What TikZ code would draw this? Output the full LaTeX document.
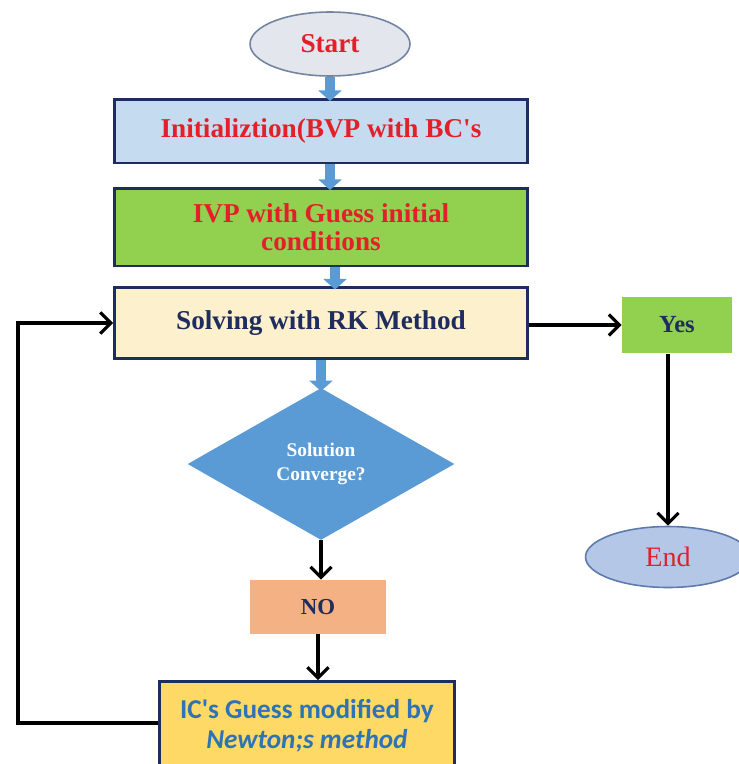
\documentclass[tikz,border=0pt]{standalone}
\usepackage{fontspec}
\setmainfont{Liberation Serif}
\newfontfamily\calfont{Carlito}
\usetikzlibrary{shapes.geometric,arrows.meta}
\definecolor{navy}{HTML}{1F2D5E}
\definecolor{txtred}{HTML}{E3202A}
\definecolor{icblue}{HTML}{2E74B5}
\definecolor{flowblue}{HTML}{5B9BD5}
\definecolor{leaf}{HTML}{92D050}
\definecolor{startfill}{HTML}{E3E6EC}
\definecolor{startline}{HTML}{7384A0}
\definecolor{endfill}{HTML}{B4C7E7}
\definecolor{endline}{HTML}{5C7AAB}
\definecolor{initfill}{HTML}{C5DCF0}
\definecolor{solvefill}{HTML}{FDF0CD}
\definecolor{nofill}{HTML}{F4B183}
\definecolor{icfill}{HTML}{FFD966}
\newcommand{\apos}{\textquotesingle}
\begin{document}
\begin{tikzpicture}[x=0.02cm,y=-0.02cm,font=\bfseries\fontsize{15.5}{16}\selectfont,
		every node/.style={inner sep=0,align=center},
		box/.style={rectangle,draw=navy,line width=1.7pt,minimum width=8.26cm},
		term/.style={ellipse,draw=#1,line width=0.9pt},
		fat/.style={draw=flowblue,line width=6pt,-{Triangle[width=13pt,length=6pt]},shorten >=-2pt},
		arr/.style={draw=black,line width=1.8pt,-{Straight Barb[length=6pt,width=12pt]}}]
		\useasboundingbox (0,0) rectangle (739,764);
		\node[term=startline,fill=startfill,minimum width=3.2cm,minimum height=1.28cm,text=txtred] (start) at (330,44) {Start};
		\node[box,fill=initfill,minimum height=1.28cm,text=txtred] (init) at (321,131) {Initializtion(BVP with BC\apos s};
		\node[box,fill=leaf,minimum height=1.56cm,text=txtred] (ivp) at (321,227) {IVP with Guess initial\\conditions};
		\node[box,fill=solvefill,minimum height=1.42cm,text=navy] (solve) at (321,323) {Solving with RK Method};
		\node[diamond,fill=flowblue,minimum width=5.34cm,minimum height=3.04cm,text=white,
			font=\bfseries\fontsize{11}{13.5}\selectfont] (conv) at (321,464) {Solution\\Converge?};
		\node[rectangle,fill=nofill,minimum width=2.74cm,minimum height=1.08cm,text=navy,
			font=\bfseries\fontsize{13}{15}\selectfont] (no) at (318,607) {NO};
		\node[box,fill=icfill,minimum width=5.9cm,minimum height=1.78cm,text=icblue,
			font=\calfont\bfseries\fontsize{15.5}{17}\selectfont] (ic) at (307,726) {IC\apos s Guess modified by\\\itshape Newton;s method};
		\node[rectangle,fill=leaf,minimum width=2.2cm,minimum height=1.14cm,text=navy,
			font=\bfseries\fontsize{14}{16}\selectfont] (yes) at (677,325) {Yes};
		\node[term=endline,fill=endfill,minimum width=3.3cm,minimum height=1.22cm,text=txtred,
			font=\fontsize{16}{18}\selectfont] (end) at (668,557) {End};
		\coordinate (back) at (18,723);
		\draw[fat] (start.south) -- (start.south |- init.north);
		\draw[fat] (init.south -| start) -- (start |- ivp.north);
		\draw[fat] ([xshift=8]ivp.south) -- ([xshift=8]ivp.south |- solve.north);
		\draw[fat] (solve.south) -- (conv.north);
		\draw[arr] (conv.south) -- (conv.south |- no.north);
		\draw[arr] (no.south) -- (no.south |- ic.north);
		\draw[arr] (solve.east |- yes) -- (yes);
		\draw[arr] (yes.south -| end) -- (end);
		\draw[arr] (ic.west |- back) -- (back) |- (solve.west);
	\end{tikzpicture}
\end{document}
